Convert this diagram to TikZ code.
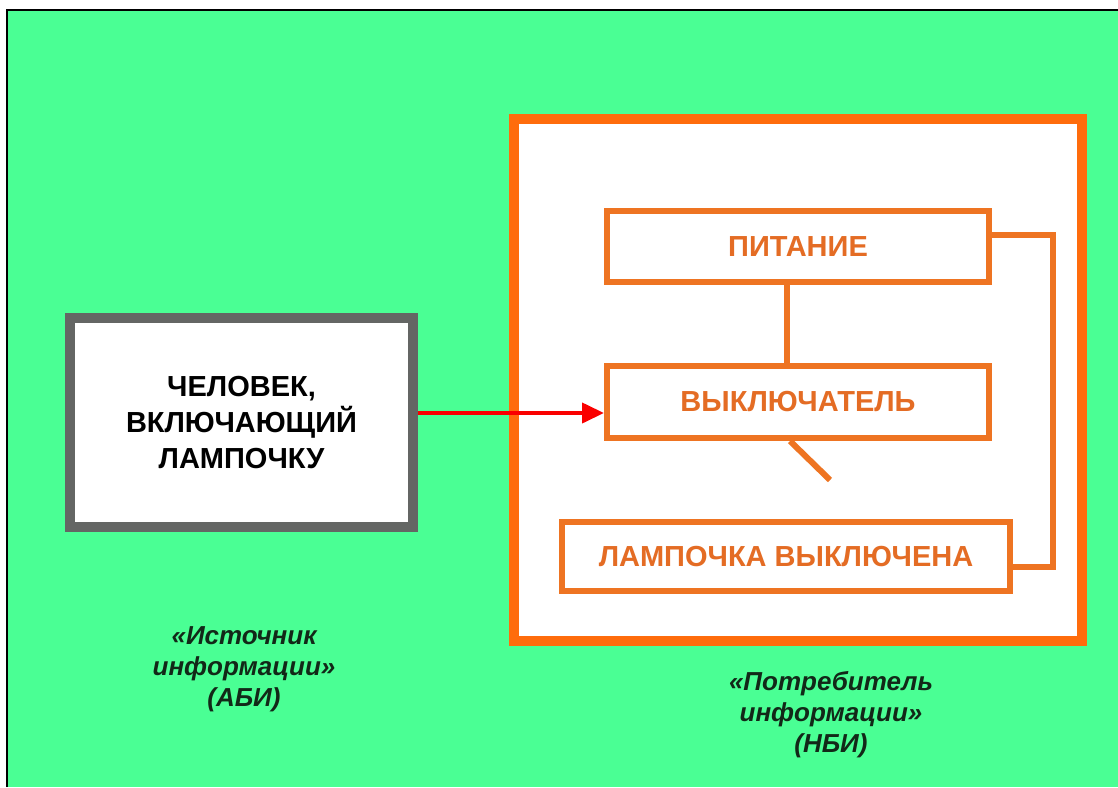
\documentclass[tikz,border=0pt]{standalone}
\usepackage{fontspec}
\setmainfont{Liberation Sans}
\usetikzlibrary{arrows.meta}
\definecolor{bggreen}{RGB}{74,255,148}
\definecolor{boxgray}{RGB}{100,102,100}
\definecolor{outerorange}{RGB}{255,108,12}
\definecolor{innerorange}{RGB}{238,116,34}
\definecolor{textorange}{RGB}{228,108,36}
\definecolor{captext}{RGB}{18,40,24}
\definecolor{arrowred}{RGB}{250,0,0}
\tikzset{
  graybox/.style={draw=boxgray, line width=10pt, fill=white, align=center,
    font=\bfseries\fontsize{29}{36}\selectfont, text=black},
  outerbox/.style={draw=outerorange, line width=10pt, fill=white},
  innerbox/.style={draw=innerorange, line width=6pt, fill=white, align=center,
    font=\bfseries\fontsize{29}{36}\selectfont, text=textorange},
  conn/.style={draw=innerorange, line width=6pt},
  redarrow/.style={draw=arrowred, line width=4pt, -{Triangle[length=22pt,width=20pt]}},
  caption/.style={align=center, font=\bfseries\itshape\fontsize{26}{31}\selectfont, text=captext}
}
\begin{document}
\begin{tikzpicture}[x=1pt,y=-1pt]
\useasboundingbox (0,0) rectangle (1118,787);
\fill[white] (0,0) rectangle (1118,787);
\fill[bggreen] (7,10) rectangle (1118,787);
\draw[black, line width=2pt] (7,787) -- (7,10) -- (1118,10);

\node[graybox, minimum width=343pt, minimum height=209pt] (src) at (241.5,422.5)
  {ЧЕЛОВЕК,\\ВКЛЮЧАЮЩИЙ\\ЛАМПОЧКУ};
\node[outerbox, minimum width=568pt, minimum height=522pt] (cons) at (798,380) {};

\node[innerbox, minimum width=382pt, minimum height=71pt] (pit) at (798,246.5) {ПИТАНИЕ};
\node[innerbox, minimum width=382pt, minimum height=72pt] (vyk) at (798,402) {ВЫКЛЮЧАТЕЛЬ};
\node[innerbox, minimum width=448pt, minimum height=69pt] (lamp) at (786,556.5) {ЛАМПОЧКА ВЫКЛЮЧЕНА};

\draw[conn] ([xshift=-11pt]pit.south) -- ([xshift=-11pt]vyk.north);
\coordinate (swend) at (830,480);
\draw[conn] ([xshift=-8pt]vyk.south) -- (swend);
\coordinate (rc) at (1053,567);
\draw[conn] ([yshift=11.5pt]pit.east) -| (rc) -- ([yshift=-10.5pt]lamp.east);

\coordinate (tgt) at ([yshift=-11pt]vyk.west);
\draw[redarrow] (src.east |- tgt) -- (tgt);

\node[caption] (capsrc) at (244,669) {«Источник\\информации»\\(АБИ)};
\node[caption] (capcons) at (831,715) {«Потребитель\\информации»\\(НБИ)};
\end{tikzpicture}
\end{document}
